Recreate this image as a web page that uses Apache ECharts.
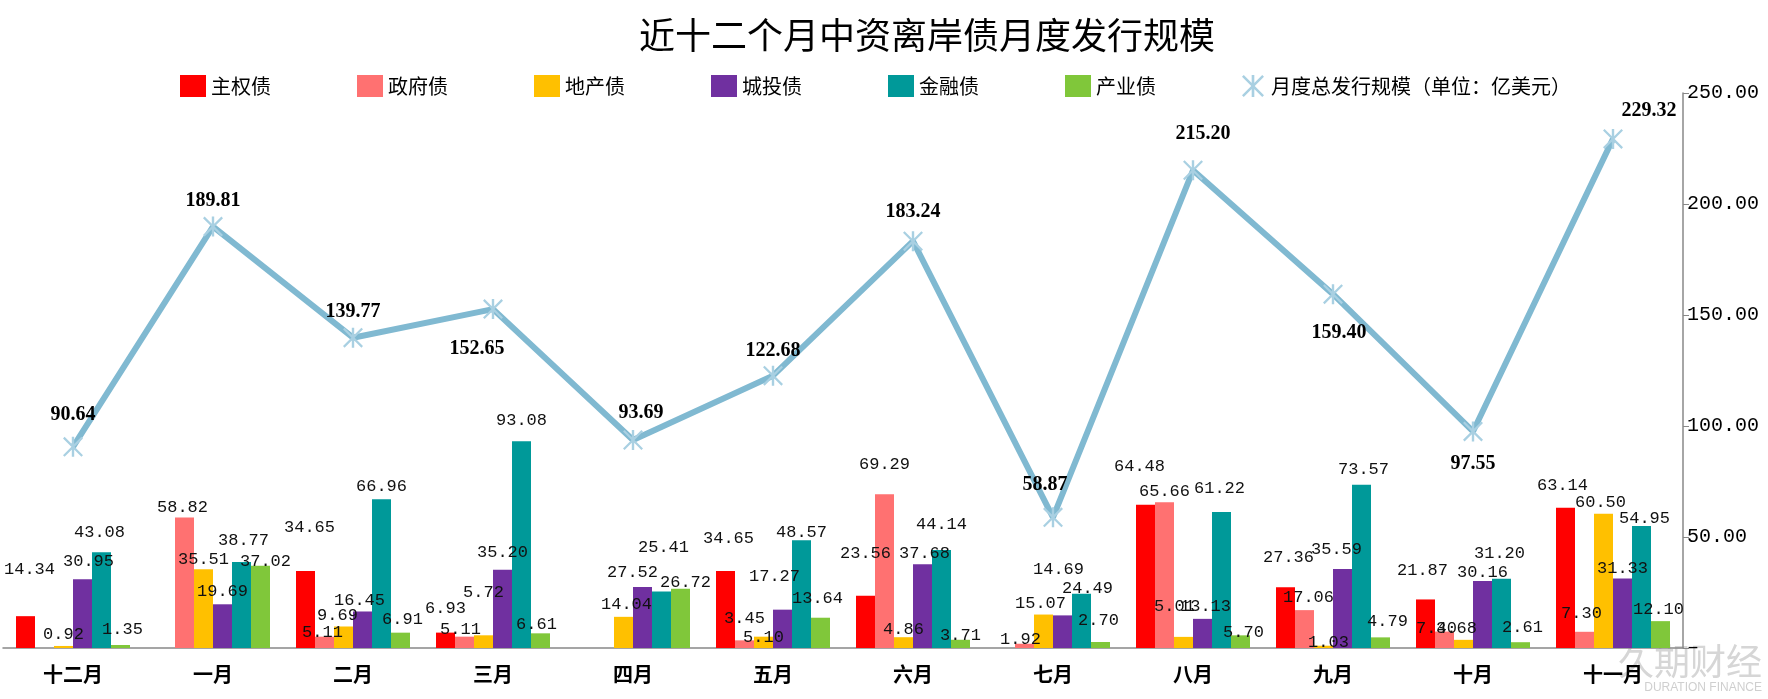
<!DOCTYPE html>
<html>
<head>
<meta charset="utf-8">
<script src="https://cdn.jsdelivr.net/npm/echarts@6/dist/echarts.min.js"></script>
<style>
html,body{margin:0;padding:0;background:#fff;}
#c{width:1768px;height:699px;}
</style>
</head>
<body>
<div id="c"></div>
<script>
const categories = ['十二月','一月','二月','三月','四月','五月','六月','七月','八月','九月','十月','十一月'];
const sovereign  = [14.34, null, 34.65, 6.93, null, 34.65, 23.56, null, 64.48, 27.36, 21.87, 63.14];
const government = [null, 58.82, 5.11, 5.11, null, 3.45, 69.29, 1.92, 65.66, 17.06, 7.40, 7.30];
const property   = [0.92, 35.51, 9.69, 5.72, 14.04, 5.10, 4.86, 15.07, 5.01, 1.03, 3.68, 60.50];
const lgfv       = [30.95, 19.69, 16.45, 35.20, 27.52, 17.27, 37.68, 14.69, 13.13, 35.59, 30.16, 31.33];
const financial  = [43.08, 38.77, 66.96, 93.08, 25.41, 48.57, 44.14, 24.49, 61.22, 73.57, 31.20, 54.95];
const industrial = [1.35, 37.02, 6.91, 6.61, 26.72, 13.64, 3.71, 2.70, 5.70, 4.79, 2.61, 12.10];
const total      = [90.64, 189.81, 139.77, 152.65, 93.69, 122.68, 183.24, 58.87, 215.20, 159.40, 97.55, 229.32];
const yTicks = [0, 50, 100, 150, 200, 250];

const barNames  = ['主权债','政府债','地产债','城投债','金融债','产业债'];
const barData   = [sovereign, government, property, lgfv, financial, industrial];
const barColors = ['#FF0000','#FF7171','#FFC000','#7030A0','#009999','#80C73A'];
const lineName  = '月度总发行规模（单位：亿美元）';

// ---- styling only: label placement nudges (pixels), mimicking the original layout ----
const labelDx = [
  [4, 0, 4, 0, 0, 3, 0, 0, -6, 3, -3, -3],
  [0, -2, -2, -4, 0, 0, 0, -4, 0, 4, -8, -3],
  [0, 0, -6, 0, 3, 0, 0, -3, -9, 5, -7, -3],
  [6, 0, -3, 0, -10, -8, 2, -4, 3, -6, 0, 0],
  [-2, 2, 0, 0, 2, 0, 0, 6, -2, 2, -2, 3],
  [2, 5, 2, -4, 5, -3, 0, -2, 3, 7, 2, -2]
];
const labelDy = [
  [-34, 0, -31, -12, 0, -20, -30, 0, -26, -17, -16, -10],
  [0, 3, 8, 5, 0, -9, -17, 8, 2, 0, 9, -6],
  [1, 3, 2, -30, 0, 13, 5, 1, -18, 9, 1, 1],
  [-5, 0, 2, -5, -2, -21, 2, -33, 0, -7, 4, 3],
  [-7, -9, 0, -8, -32, 5, -13, 7, -11, -3, -13, 5],
  [-3, 8, -1, 4, 6, -7, 8, -9, 10, -3, -2, 1]
];
const linePos = ['top','top','top','bottom','top','top','top','top','top','bottom','bottom','top'];
const lineOff = [[0,0],[0,6],[0,6],[-16,8],[8,5],[0,7],[0,3],[-8,0],[10,-4],[6,7],[0,0],[36,4]];

const asterisk = 'path://M4.4,0L5.6,0L5.6,10L4.4,10Z M0,0.8L0.8,0L10,9.2L9.2,10Z M9.2,0L10,0.8L0.8,10L0,9.2Z';

const series = barNames.map((n, i) => ({
  name: n,
  type: 'bar',
  barWidth: 19,
  barGap: '0%',
  itemStyle: { color: barColors[i] },
  data: barData[i].map((v, j) => ({
    value: v,
    label: { offset: [labelDx[i][j], labelDy[i][j]] }
  })),
  label: {
    show: true,
    position: 'top',
    distance: 4,
    fontFamily: 'Liberation Mono',
    fontSize: 17,
    color: '#111',
    formatter: p => (p.value == null ? '' : Number(p.value).toFixed(2))
  },
  z: 2
}));

series.push({
  name: lineName,
  type: 'line',
  data: total.map((v, i) => ({
    value: v,
    label: { position: linePos[i], offset: lineOff[i] }
  })),
  lineStyle: { color: '#80B9D1', width: 6 },
  itemStyle: { color: '#A9D0E2' },
  symbol: asterisk,
  symbolSize: 20,
  z: 5,
  label: {
    show: true,
    distance: 12,
    fontFamily: 'Liberation Serif',
    fontWeight: 'bold',
    fontSize: 20,
    color: '#000',
    formatter: p => Number(p.value).toFixed(2)
  }
});

const chart = echarts.init(document.getElementById('c'));
chart.setOption({
  backgroundColor: '#fff',
  animation: false,
  title: {
    text: '近十二个月中资离岸债月度发行规模',
    left: 922, top: 12,
    textAlign: 'center',
    textStyle: { fontFamily: 'Noto Sans CJK SC', fontSize: 36, fontWeight: 'normal', color: '#000' }
  },
  legend: {
    left: 175, top: 70,
    itemWidth: 26, itemHeight: 22,
    itemGap: 86,
    textStyle: { fontFamily: 'Noto Sans CJK SC', fontSize: 20, color: '#000' },
    data: barNames.map(n => ({ name: n, icon: 'rect' })).concat([{ name: lineName, icon: asterisk }])
  },
  grid: { left: 3, right: 85, top: 93, bottom: 51 },
  xAxis: {
    type: 'category',
    data: categories,
    axisLine: { lineStyle: { color: '#888', width: 1.5 } },
    axisTick: { show: false },
    axisLabel: { fontFamily: 'Noto Sans CJK SC', fontSize: 20, fontWeight: 'bold', color: '#000', margin: 16 }
  },
  yAxis: {
    type: 'value',
    position: 'right',
    min: yTicks[0], max: yTicks[yTicks.length - 1], interval: yTicks[1] - yTicks[0],
    axisLine: { show: true, lineStyle: { color: '#888', width: 1.5 } },
    axisTick: { show: true, length: 6, lineStyle: { color: '#888' } },
    splitLine: { show: false },
    axisLabel: {
      fontFamily: 'Liberation Mono', fontSize: 20, color: '#000', margin: 4,
      formatter: v => (v === 0 ? '–' : v.toFixed(2))
    }
  },
  graphic: [
    { type: 'text', right: 6, bottom: 20, style: { text: '久期财经', fontFamily: 'Noto Sans CJK SC', fontSize: 36, fill: '#d6d6d6' } },
    { type: 'text', right: 6, bottom: 5, style: { text: 'DURATION FINANCE', fontFamily: 'Liberation Sans', fontSize: 12, fill: '#cfcfcf' } }
  ],
  series: series
});
</script>
</body>
</html>
